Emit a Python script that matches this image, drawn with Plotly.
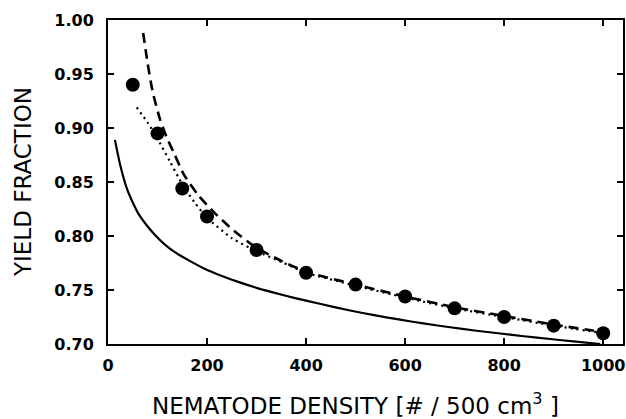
import plotly.graph_objects as go

# observed points
dot_x = [50, 100, 150, 200, 300, 400, 500, 600, 700, 800, 900, 1000]
dot_y = [0.940, 0.895, 0.844, 0.818, 0.787, 0.766, 0.755, 0.744, 0.733, 0.725, 0.717, 0.710]

# solid curve
solid_x = [14, 25, 38, 50, 61, 78, 95, 115, 135, 165, 196, 230, 263, 300, 331, 378, 430, 489, 540, 590, 640, 691, 740, 792, 840, 893, 940, 994]
solid_y = [0.889, 0.865, 0.844, 0.831, 0.821, 0.810, 0.801, 0.792, 0.785, 0.777, 0.7695, 0.763, 0.7575, 0.752, 0.748, 0.7425, 0.737, 0.731, 0.7265, 0.7225, 0.7188, 0.7155, 0.7125, 0.7097, 0.7072, 0.7046, 0.7024, 0.700]

# dashed curve
dash_x = [71, 80, 90, 105, 118, 133, 153, 182, 216, 254, 300, 350, 400, 500, 600, 700, 800, 900, 1000]
dash_y = [0.988, 0.960, 0.934, 0.908, 0.892, 0.877, 0.857, 0.838, 0.821, 0.805, 0.789, 0.777, 0.767, 0.755, 0.744, 0.734, 0.726, 0.718, 0.711]

# dotted curve
dotline_x = [58, 80, 100, 125, 150, 175, 200, 250, 300, 350, 400, 500, 600, 700, 800, 900, 1000]
dotline_y = [0.919, 0.905, 0.890, 0.869, 0.848, 0.831, 0.817, 0.798, 0.786, 0.776, 0.766, 0.754, 0.743, 0.733, 0.725, 0.717, 0.710]

x_ticks = [0, 200, 400, 600, 800, 1000]
y_ticks = [0.70, 0.75, 0.80, 0.85, 0.90, 0.95, 1.00]

x_title = "NEMATODE DENSITY [# / 500 cm<sup>3</sup> ]"
y_title = "YIELD FRACTION"

fig = go.Figure()
fig.add_trace(go.Scatter(x=solid_x, y=solid_y, mode="lines",
                         line=dict(color="black", width=2.2, shape="spline", smoothing=0.6)))
fig.add_trace(go.Scatter(x=dash_x, y=dash_y, mode="lines",
                         line=dict(color="black", width=2.6, dash="10px,6px", shape="spline", smoothing=0.6)))
fig.add_trace(go.Scatter(x=dotline_x, y=dotline_y, mode="lines",
                         line=dict(color="black", width=2.2, dash="2px,4px", shape="spline", smoothing=0.6)))
fig.add_trace(go.Scatter(x=dot_x, y=dot_y, mode="markers",
                         marker=dict(color="black", size=14, symbol="circle")))

tickfont = dict(family="DejaVu Sans", size=16, color="black", weight="bold")
axis_common = dict(
    showline=True, linecolor="black", linewidth=2, mirror="ticks",
    ticks="inside", ticklen=6, tickwidth=2, tickcolor="black",
    showgrid=False, zeroline=False, automargin=False,
    tickfont=tickfont, ticklabeloverflow="allow",
)

fig.update_layout(
    width=626, height=419,
    margin=dict(l=108, r=3, t=20, b=75),
    paper_bgcolor="white", plot_bgcolor="white",
    showlegend=False,
    xaxis=dict(range=[0, 1040], tickvals=x_ticks, ticktext=[str(v) for v in x_ticks],
               ticklabelstandoff=6, **axis_common),
    yaxis=dict(range=[0.70, 1.00], tickvals=y_ticks, ticktext=[f"{v:.2f}" for v in y_ticks],
               ticklabelstandoff=9, **axis_common),
    annotations=[
        dict(text=x_title, xref="paper", yref="paper", x=0.48, y=-0.186,
             xanchor="center", yanchor="middle", showarrow=False,
             font=dict(family="DejaVu Sans", size=23, color="black")),
        dict(text=y_title, xref="paper", yref="paper", x=-0.165, y=0.5,
             xanchor="center", yanchor="middle", showarrow=False, textangle=-90,
             font=dict(family="DejaVu Sans", size=23, color="black")),
    ],
)

fig.write_html(
    "out.html",
    config={"displayModeBar": False},
    post_script="document.body.style.margin='0px';document.documentElement.style.overflow='hidden';",
)
